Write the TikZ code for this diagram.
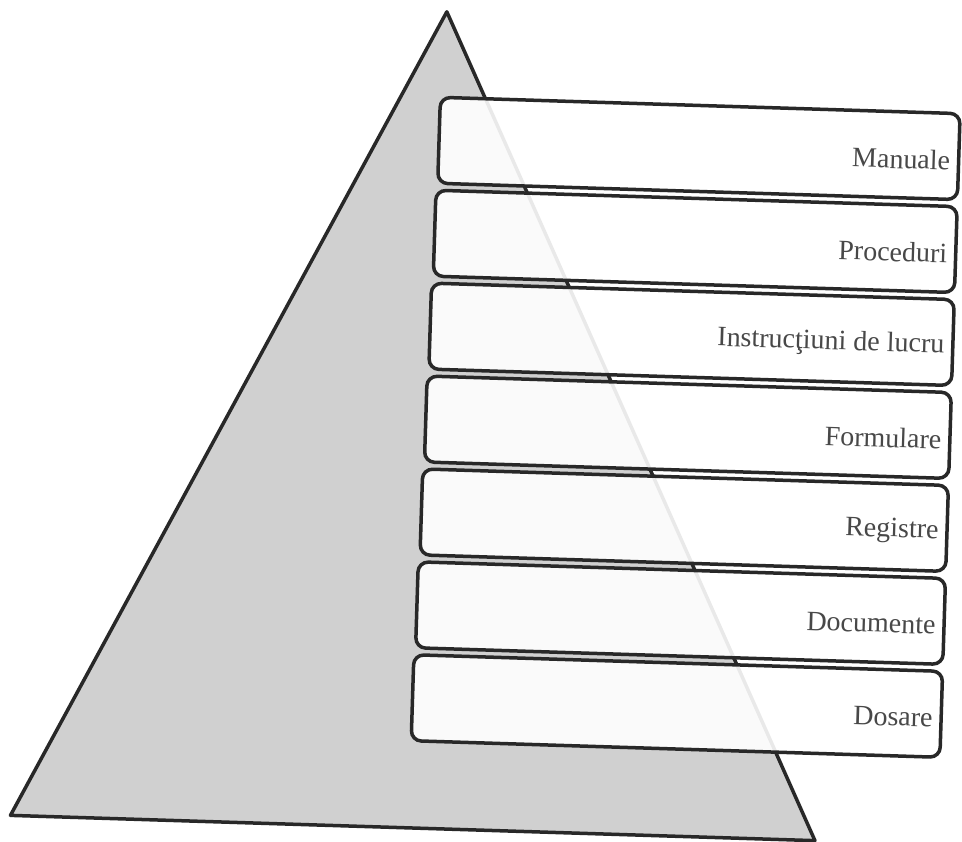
\documentclass[tikz,border=0pt]{standalone}
\usepackage{fontspec}
\setmainfont{Liberation Serif}
\definecolor{trifill}{RGB}{208,208,208}
\definecolor{edge}{RGB}{40,40,40}
\definecolor{labtxt}{RGB}{72,72,72}
\tikzset{
  layerbox/.style={draw=edge, line width=3.5pt, fill=white, fill opacity=0.9,
    rounded corners=10pt, minimum height=86pt, inner sep=0pt, anchor=north east},
  layerlab/.style={text=labtxt, font=\fontsize{28}{32}\selectfont, anchor=east, inner sep=0pt},
  pyr/.style={draw=edge, line width=3.5pt, line join=round, fill=trifill}
}
\begin{document}
\begin{tikzpicture}[x=1pt,y=1pt]
\useasboundingbox (0,0) rectangle (962,-842);
\fill[white] (0,0) rectangle (962,-842);
\begin{scope}[shift={(481,-421)}, rotate=-1.8, transform shape]
  \coordinate (L) at (-458,-409);
  \coordinate (R) at (347,-409);
  \coordinate (A) at (-47,408);
  \draw[pyr] (L) -- (R) -- (A) -- cycle;
  \foreach \i/\t in {1/Manuale,2/Proceduri,3/{Instrucţiuni de lucru},4/Formulare,5/Registre,6/Documente,7/Dosare}{
    \pgfmathsetmacro{\top}{324-93*(\i-1)}
    \pgfmathsetmacro{\wid}{520+1.5*(\i-1)}
    \node[layerbox, minimum width=\wid pt] (b\i) at (471,\top) {};
    \node[layerlab] (t\i) at ([xshift=-10pt,yshift=-4pt]b\i.east) {\t};
  }
\end{scope}
\end{tikzpicture}
\end{document}
